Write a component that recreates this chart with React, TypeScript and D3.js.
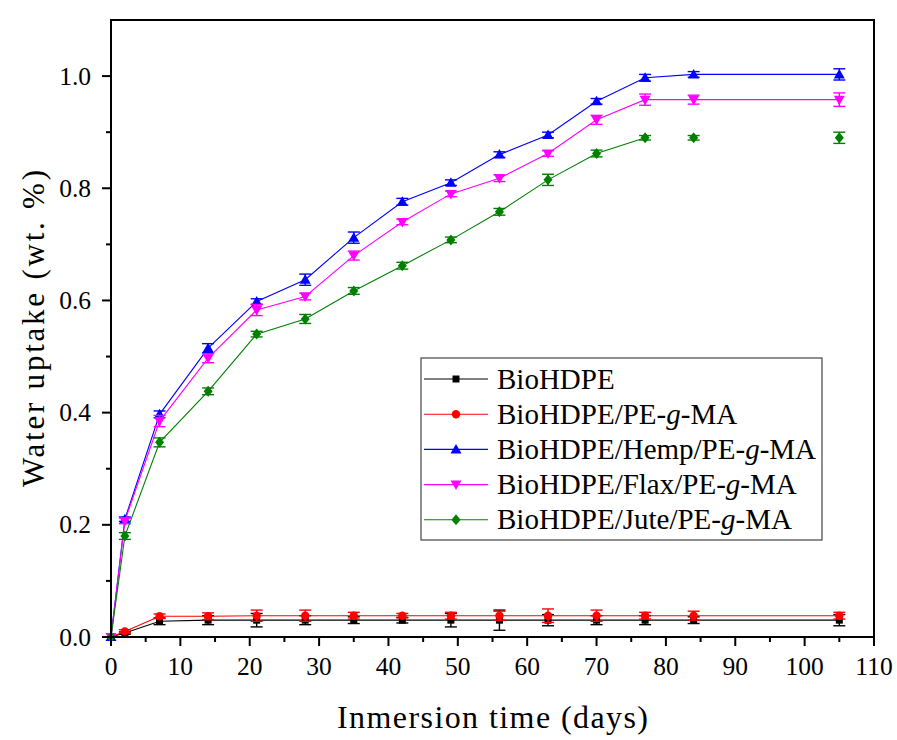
import React from "react";
import * as d3 from "d3";

const days = [0, 2, 7, 14, 21, 28, 35, 42, 49, 56, 63, 70, 77, 84, 105];

const bioHDPE = [0, 0.007, 0.028, 0.03, 0.03, 0.03, 0.03, 0.03, 0.03, 0.03, 0.03, 0.03, 0.03, 0.03, 0.03];
const bioHDPEErr = [0, 0.002, 0.006, 0.008, 0.012, 0.008, 0.006, 0.005, 0.012, 0.018, 0.01, 0.008, 0.008, 0.006, 0.01];
const peGMA = [0, 0.01, 0.037, 0.037, 0.038, 0.038, 0.038, 0.038, 0.038, 0.038, 0.038, 0.038, 0.038, 0.038, 0.038];
const peGMAErr = [0, 0.003, 0.004, 0.006, 0.01, 0.01, 0.006, 0.004, 0.006, 0.008, 0.012, 0.01, 0.006, 0.008, 0.006];
const hemp = [0, 0.21, 0.397, 0.515, 0.598, 0.637, 0.712, 0.776, 0.81, 0.86, 0.895, 0.955, 0.997, 1.003, 1.003];
const hempErr = [0, 0.004, 0.006, 0.008, 0.005, 0.01, 0.01, 0.006, 0.005, 0.005, 0.005, 0.005, 0.006, 0.005, 0.01];
const flax = [0, 0.207, 0.385, 0.497, 0.583, 0.607, 0.68, 0.74, 0.79, 0.818, 0.862, 0.922, 0.958, 0.958, 0.958];
const flaxErr = [0, 0.005, 0.01, 0.008, 0.01, 0.006, 0.008, 0.005, 0.005, 0.006, 0.005, 0.008, 0.01, 0.008, 0.012];
const jute = [0, 0.18, 0.347, 0.438, 0.54, 0.567, 0.617, 0.662, 0.708, 0.758, 0.815, 0.862, 0.89, 0.89, 0.89];
const juteErr = [0, 0.006, 0.008, 0.006, 0.005, 0.008, 0.006, 0.006, 0.005, 0.006, 0.01, 0.006, 0.004, 0.004, 0.01];

const seriesNames = ["BioHDPE", "BioHDPE/PE-g-MA", "BioHDPE/Hemp/PE-g-MA", "BioHDPE/Flax/PE-g-MA", "BioHDPE/Jute/PE-g-MA"];
const seriesColors = ["#000000", "#ff0000", "#0000ff", "#ff00ff", "#008000"];
const seriesSymbols = ["square", "circle", "triangle", "down", "diamond"];
const seriesValues = [bioHDPE, peGMA, hemp, flax, jute];
const seriesErrors = [bioHDPEErr, peGMAErr, hempErr, flaxErr, juteErr];
// last index connected by the line
const lineEnd = [14, 14, 14, 14, 12];

const xTicks = [0, 10, 20, 30, 40, 50, 60, 70, 80, 90, 100, 110];
const yTicks = [0, 0.2, 0.4, 0.6, 0.8, 1.0];

const FONT = "'Liberation Serif', 'Times New Roman', serif";

function Marker({ type, x, y, color }: { type: string; x: number; y: number; color: string }) {
  if (type === "square") return <rect x={x - 3.5} y={y - 3.5} width={7} height={7} fill={color} />;
  if (type === "circle") return <circle cx={x} cy={y} r={4.2} fill={color} />;
  if (type === "triangle") return <path d={`M${x},${y - 5.5} L${x + 5.5},${y + 4} L${x - 5.5},${y + 4} Z`} fill={color} />;
  if (type === "down") return <path d={`M${x},${y + 5.5} L${x + 5.5},${y - 4} L${x - 5.5},${y - 4} Z`} fill={color} />;
  return <path d={`M${x},${y - 5.5} L${x + 4.5},${y} L${x},${y + 5.5} L${x - 4.5},${y} Z`} fill={color} />;
}

function Label({ name }: { name: string }) {
  const parts = name.split("-g-");
  if (parts.length === 1) return <>{name}</>;
  return (
    <>
      {parts[0]}-<tspan fontStyle="italic">g</tspan>-{parts[1]}
    </>
  );
}

export default function App() {
  const W = 897, H = 740;
  const left = 111, right = 874, top = 20, bottom = 637;
  const x = d3.scaleLinear().domain([0, 110]).range([left, right]);
  const y = d3.scaleLinear().domain([0, 1.1]).range([bottom, top]);
  const line = d3.line<number>().x((_, i) => x(days[i])).y((v) => y(v));
  const xMinor = d3.range(5, 110, 10);
  const yMinor = d3.range(0.1, 1.1, 0.2);

  const legendX = 421, legendY = 358, legendW = 401, legendH = 182;

  return (
    <svg width={W} height={H} style={{ position: "absolute", left: 0, top: 0, background: "#fff" }} fontFamily={FONT}>
      <rect x={0} y={0} width={W} height={H} fill="#fff" />
      {/* series */}
      {seriesValues.map((vals, s) => (
        <g key={s}>
          <path d={line(vals.slice(0, lineEnd[s] + 1)) || ""} fill="none" stroke={seriesColors[s]} strokeWidth={1.1} />
          {vals.map((v, i) => {
            const e = seriesErrors[s][i];
            if (e <= 0) return null;
            const cx = x(days[i]);
            return (
              <g key={"e" + i} stroke={seriesColors[s]} strokeWidth={1.4}>
                <line x1={cx} x2={cx} y1={y(v + e)} y2={y(v - e)} />
                <line x1={cx - 6} x2={cx + 6} y1={y(v + e)} y2={y(v + e)} />
                <line x1={cx - 6} x2={cx + 6} y1={y(v - e)} y2={y(v - e)} />
              </g>
            );
          })}
          {vals.map((v, i) => (
            <Marker key={"m" + i} type={seriesSymbols[s]} x={x(days[i])} y={y(v)} color={seriesColors[s]} />
          ))}
        </g>
      ))}
      {/* frame */}
      <rect x={left} y={top} width={right - left} height={bottom - top} fill="none" stroke="#000" strokeWidth={2} />
      {/* x ticks */}
      {xTicks.map((t) => (
        <g key={"xt" + t}>
          <line x1={x(t)} x2={x(t)} y1={bottom} y2={bottom + 9} stroke="#000" strokeWidth={2} />
          <text x={x(t)} y={675} textAnchor="middle" fontSize={25.5}>{t}</text>
        </g>
      ))}
      {xMinor.map((t) => (
        <line key={"xm" + t} x1={x(t)} x2={x(t)} y1={bottom} y2={bottom + 5} stroke="#000" strokeWidth={2} />
      ))}
      {/* y ticks */}
      {yTicks.map((t) => (
        <g key={"yt" + t}>
          <line x1={left} x2={left - 9} y1={y(t)} y2={y(t)} stroke="#000" strokeWidth={2} />
          <text x={91} y={y(t) + 8.5} textAnchor="end" fontSize={25.5}>{t.toFixed(1)}</text>
        </g>
      ))}
      {yMinor.map((t) => (
        <line key={"ym" + t} x1={left} x2={left - 5} y1={y(t)} y2={y(t)} stroke="#000" strokeWidth={2} />
      ))}
      {/* axis titles */}
      <text x={(left + right) / 2} y={728} textAnchor="middle" fontSize={32} textLength={311} lengthAdjust="spacing">Inmersion time (days)</text>
      <text transform={`translate(44,${(top + bottom) / 2}) rotate(-90)`} textAnchor="middle" fontSize={31} textLength={317} lengthAdjust="spacing">Water uptake (wt. %)</text>
      {/* legend */}
      <rect x={legendX} y={legendY} width={legendW} height={legendH} fill="#fff" stroke="#444" strokeWidth={1.2} />
      {seriesNames.map((n, i) => {
        const ly = legendY + 21 + i * 35.2;
        return (
          <g key={"l" + i}>
            <line x1={legendX + 3} x2={legendX + 67} y1={ly} y2={ly} stroke={seriesColors[i]} strokeWidth={1.1} />
            <Marker type={seriesSymbols[i]} x={legendX + 35} y={ly} color={seriesColors[i]} />
            <text x={legendX + 76} y={ly + 9.5} fontSize={29}><Label name={n} /></text>
          </g>
        );
      })}
    </svg>
  );
}
